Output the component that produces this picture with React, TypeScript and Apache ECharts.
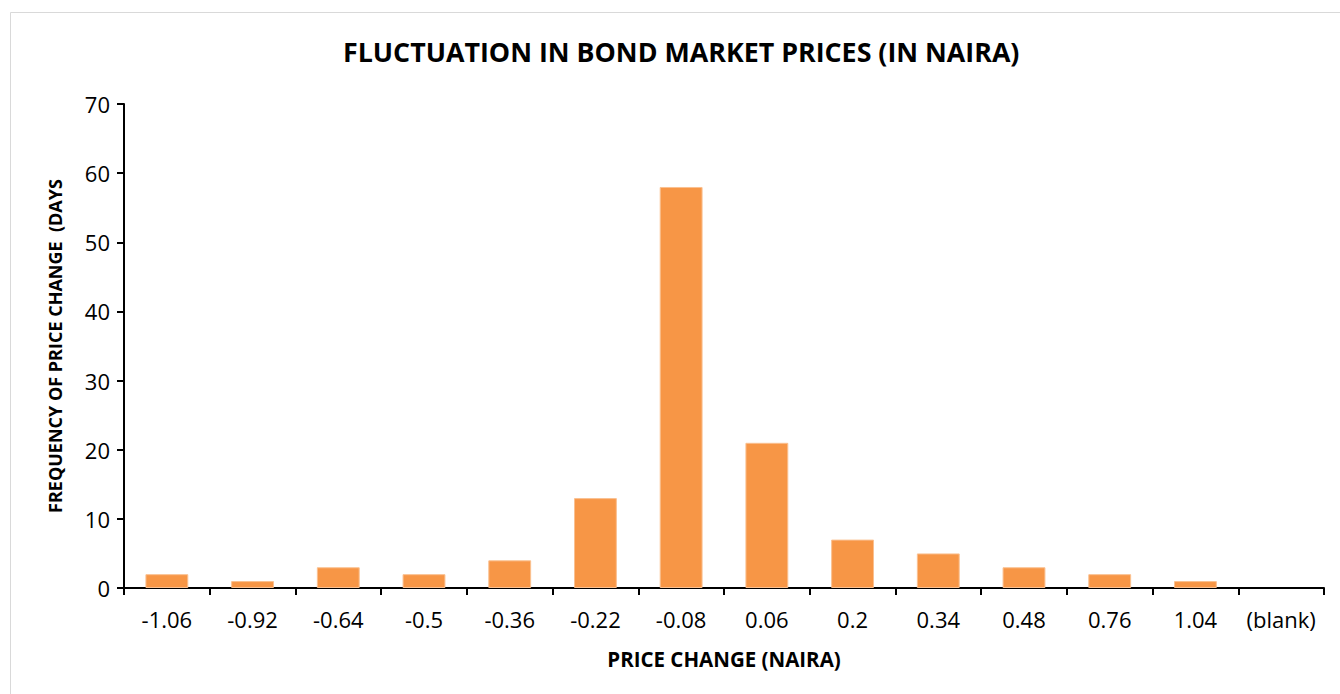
import React, { useEffect, useRef } from "react";
import * as echarts from "echarts";

const categories = ["-1.06", "-0.92", "-0.64", "-0.5", "-0.36", "-0.22", "-0.08", "0.06", "0.2", "0.34", "0.48", "0.76", "1.04", "(blank)"];
const frequencies: (number | null)[] = [2, 1, 3, 2, 4, 13, 58, 21, 7, 5, 3, 2, 1, null];
const yTicks = { min: 0, max: 70, interval: 10 };

const FONT = "'Open Sans', 'Noto Sans', sans-serif";

export default function App() {
  const ref = useRef<HTMLDivElement>(null);
  useEffect(() => {
    if (!ref.current) return;
    const chart = echarts.init(ref.current, undefined, { renderer: "svg" });
    chart.setOption({
      animation: false,
      backgroundColor: "#ffffff",
      title: {
        text: "FLUCTUATION IN BOND MARKET PRICES (IN NAIRA)",
        left: 338,
        top: 33,
        padding: 5,
        textStyle: { fontFamily: FONT, fontWeight: "bold", fontSize: 26.8, color: "#000" },
      },
      graphic: [
        {
          type: "rect",
          shape: { x: 10.5, y: 12.5, width: 1340, height: 700 },
          style: { fill: "none", stroke: "#d9d9d9", lineWidth: 1 },
          silent: true,
        },
      ],
      grid: { left: 124, top: 104, right: 16, bottom: 106, containLabel: false },
      xAxis: {
        type: "category",
        data: categories,
        name: "PRICE CHANGE (NAIRA)",
        nameLocation: "middle",
        nameGap: 60,
        nameTextStyle: { fontFamily: FONT, fontWeight: "bold", fontSize: 20.5, color: "#000" },
        axisLine: { lineStyle: { color: "#000", width: 2 } },
        axisTick: { show: true, alignWithLabel: false, length: 7, lineStyle: { color: "#000", width: 2 } },
        axisLabel: { fontFamily: FONT, fontSize: 22, color: "#000", margin: 20, interval: 0 },
      },
      yAxis: {
        type: "value",
        min: yTicks.min,
        max: yTicks.max,
        interval: yTicks.interval,
        name: "FREQUENCY OF PRICE CHANGE  (DAYS",
        nameLocation: "middle",
        nameGap: 60,
        nameRotate: 90,
        nameTextStyle: { fontFamily: FONT, fontWeight: "bold", fontSize: 18, color: "#000" },
        axisLine: { show: true, lineStyle: { color: "#000", width: 2 } },
        axisTick: { show: true, length: 7, lineStyle: { color: "#000", width: 2 } },
        axisLabel: { fontFamily: FONT, fontSize: 22, color: "#000", margin: 14 },
        splitLine: { show: false },
      },
      series: [
        {
          type: "bar",
          data: frequencies,
          barWidth: "50%",
          itemStyle: { color: "#F79646", borderColor: "#FAC090", borderWidth: 1 },
        },
      ],
    });
    return () => chart.dispose();
  }, []);
  return (
    <div
      ref={ref}
      style={{ position: "absolute", left: 0, top: 0, width: 1340, height: 694 }}
    />
  );
}
